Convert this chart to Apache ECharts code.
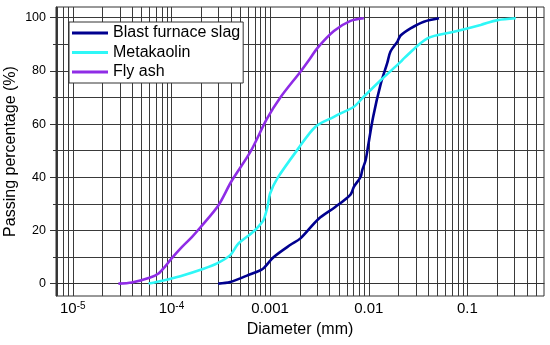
<!DOCTYPE html>
<html><head><meta charset="utf-8">
<script src="https://cdn.jsdelivr.net/npm/echarts@6/dist/echarts.min.js"></script>
<style>html,body{margin:0;padding:0;background:#fff}#c{width:550px;height:345px}</style>
</head><body><div id="c"></div>
<script>
// ---- data (diameter in mm, passing in %) ----
const seriesNames = ['Blast furnace slag', 'Metakaolin', 'Fly ash'];
const seriesColors = ['#00008f', '#2ef7f7', '#8f2ce6'];

const slagDiameter = [2.97e-4, 3.95e-4, 5.83e-4, 7.98e-4, 8.61e-4, 1.09e-3, 1.61e-3, 2.03e-3, 3.09e-3, 4.57e-3, 6.53e-3, 7.06e-3, 8.26e-3, 8.59e-3, 9.29e-3, 9.77e-3, 1.107e-2, 1.32e-2, 1.54e-2, 1.66e-2, 1.95e-2, 2.10e-2, 2.65e-2, 3.62e-2, 5.15e-2];
const slagPassing  = [0, 0.6, 3.0, 5.0, 5.8, 10, 14.6, 17, 24.3, 28.8, 33.5, 36.4, 40.1, 42.7, 46.4, 51, 62.7, 75, 83, 87.3, 91, 93.3, 96, 98.5, 99.8];

const metaDiameter = [5.86e-5, 8.3e-5, 1.23e-4, 2.12e-4, 2.9e-4, 3.95e-4, 4.62e-4, 5.0e-4, 6.8e-4, 8.0e-4, 8.6e-4, 9.4e-4, 1.0e-3, 1.18e-3, 1.88e-3, 2.88e-3, 4.43e-3, 5.18e-3, 7.06e-3, 8.9e-3, 1.32e-2, 2.1e-2, 2.27e-2, 3.93e-2, 7.3e-2, 0.136, 0.202, 0.309];
const metaPassing  = [0, 1.2, 2.8, 5.6, 7.6, 10.7, 14.4, 15.7, 19.6, 22.4, 24, 28.8, 33.9, 39.5, 50.2, 59, 62.7, 64, 66.5, 70.3, 76.5, 83.4, 84.7, 92.2, 94.7, 97.3, 99.1, 99.8];

const flyDiameter = [2.9e-5, 3.97e-5, 6.1e-5, 7.4e-5, 8.65e-5, 1.0e-4, 1.28e-4, 1.61e-4, 1.96e-4, 3.0e-4, 4.03e-4, 6.3e-4, 9.3e-4, 1.27e-3, 2.03e-3, 2.47e-3, 3.0e-3, 4.43e-3, 6.53e-3, 8.9e-3];
const flyPassing  = [0, 0.4, 2.3, 3.8, 6.5, 9.4, 13.8, 17.5, 21.1, 29.5, 38.3, 49.5, 62, 70, 79.7, 84, 88.5, 95, 98.8, 99.8];

// ---- axes ----
const xMinDiameter = 6.76e-6;
const xMaxDiameter = 0.597;
const xDecades = [1e-6, 1e-5, 1e-4, 1e-3, 1e-2, 1e-1];
const xMultipliers = [1, 2, 3, 4, 5, 6, 7, 8, 9];
const xLabelDiameters = [1e-5, 1e-4, 1e-3, 1e-2, 1e-1];
const xLabelTexts = ['{b|10}{s|-5}', '{b|10}{s|-4}', '0.001', '0.01', '0.1'];
const yGridValues = [0, 10, 20, 30, 40, 50, 60, 70, 80, 90, 100];
const yLabelValues = [0, 20, 40, 60, 80, 100];
const yMin = -4.67, yMax = 104.03;

const FONT = '"Liberation Sans", Arial, sans-serif';
const lg = Math.log10;

const xGridLogs = [];
xDecades.forEach(d => xMultipliers.forEach(m => {
  const v = d * m;
  if (v >= xMinDiameter && v <= xMaxDiameter) xGridLogs.push(lg(v));
}));
const xLabelLogs = xLabelDiameters.map(lg);

function toPairs(ds, ps) { return ds.map((d, i) => [lg(d), ps[i]]); }
const seriesData = [toPairs(slagDiameter, slagPassing), toPairs(metaDiameter, metaPassing), toPairs(flyDiameter, flyPassing)];

const chart = echarts.init(document.getElementById('c'), null, {renderer: 'canvas'});
const lineCol = '#3a3a3a';
chart.setOption({
  animation: false,
  backgroundColor: '#fff',
  textStyle: {fontFamily: FONT},
  grid: {left: 56, right: 6, top: 7, bottom: 49, show: true, borderColor: '#333', borderWidth: 1, containLabel: false, outerBoundsMode: 'none'},
  legend: {
    data: seriesNames, orient: 'vertical', left: 69, top: 22,
    backgroundColor: '#fff', borderColor: '#333', borderWidth: 1, borderRadius: 0,
    padding: [3, 3, 3, 3], itemWidth: 36, itemHeight: 3, itemGap: 3.5, icon: 'rect',
    textStyle: {fontSize: 16, color: '#000', fontFamily: FONT, lineHeight: 16}
  },
  xAxis: [{
    type: 'value', min: lg(xMinDiameter), max: lg(xMaxDiameter), position: 'bottom',
    axisLine: {show: true, lineStyle: {color: '#333'}},
    axisTick: {show: true, customValues: xGridLogs, length: 2.5, lineStyle: {color: '#333'}},
    splitLine: {show: true, lineStyle: {color: lineCol, width: 1}},
    axisLabel: {
      customValues: xLabelLogs, fontSize: 15, color: '#000', margin: 5, fontFamily: FONT,
      formatter: v => { const i = xLabelLogs.findIndex(t => Math.abs(t - v) < 1e-9); return i >= 0 ? xLabelTexts[i] : ''; },
      rich: {b: {fontSize: 15, color: '#000', fontFamily: FONT}, s: {fontSize: 10, color: '#000', verticalAlign: 'top', fontFamily: FONT}}
    },
    name: 'Diameter (mm)', nameLocation: 'middle', nameGap: 26, nameMoveOverlap: false,
    nameTextStyle: {fontSize: 16, color: '#000', fontFamily: FONT}
  }, {
    type: 'value', min: lg(xMinDiameter), max: lg(xMaxDiameter), position: 'bottom',
    axisLine: {show: false}, splitLine: {show: false}, axisLabel: {show: false},
    axisTick: {show: true, customValues: xLabelLogs, length: 5, lineStyle: {color: '#333'}}
  }],
  yAxis: [{
    type: 'value', min: yMin, max: yMax, position: 'left',
    axisLine: {show: true, lineStyle: {color: '#333'}},
    axisTick: {show: true, customValues: yGridValues, length: 3, lineStyle: {color: '#333'}},
    splitLine: {show: true, lineStyle: {color: lineCol, width: 1}},
    axisLabel: {customValues: yLabelValues, fontSize: 12.5, color: '#000', margin: 10, fontFamily: FONT},
    name: 'Passing percentage (%)', nameLocation: 'middle', nameRotate: 90, nameGap: 37, nameMoveOverlap: false,
    nameTextStyle: {fontSize: 16, color: '#000', fontFamily: FONT}
  }, {
    type: 'value', min: yMin, max: yMax, position: 'left',
    axisLine: {show: false}, splitLine: {show: false}, axisLabel: {show: false},
    axisTick: {show: true, customValues: yLabelValues, length: 6, lineStyle: {color: '#333'}}
  }],
  series: seriesNames.map((n, i) => ({
    name: n, type: 'line', xAxisIndex: 0, yAxisIndex: 0, data: seriesData[i],
    showSymbol: false, symbol: 'none', smooth: 0.3,
    lineStyle: {color: seriesColors[i], width: 2.6}, itemStyle: {color: seriesColors[i]}
  }))
});
</script></body></html>
